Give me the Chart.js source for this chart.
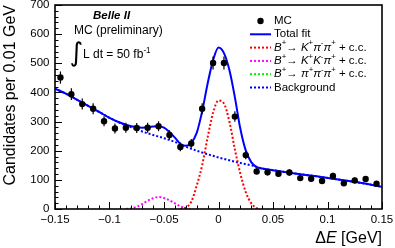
<!DOCTYPE html>
<html>
<head>
<meta charset="utf-8">
<script src="https://cdn.jsdelivr.net/npm/chart.js@4"></script>
<style>
  html, body { margin: 0; padding: 0; background: #fff; }
  canvas { display: block; }
</style>
</head>
<body>
<canvas id="de-chart" width="395" height="248"></canvas>
<script>
// MC points, 0.01 GeV bins
const binCenters = [-0.145, -0.135, -0.125, -0.115, -0.105, -0.095, -0.085, -0.075, -0.065, -0.055,
  -0.045, -0.035, -0.025, -0.015, -0.005, 0.005, 0.015, 0.025, 0.035, 0.045,
  0.055, 0.065, 0.075, 0.085, 0.095, 0.105, 0.115, 0.125, 0.135, 0.145];
const mcCounts = [451, 394, 360, 344, 301, 276, 279, 278, 279, 284,
  254, 213, 225, 344, 501, 501, 317, 185, 129, 126,
  121, 125, 106, 104, 96, 113, 88, 98, 103, 87];
const mcErrors = [21, 20, 19, 19, 17, 17, 17, 17, 17, 17,
  16, 15, 15, 19, 22, 22, 18, 14, 11, 11,
  11, 11, 10, 10, 10, 11, 9, 10, 10, 9];

// fit curves
const fitX = [-0.15, -0.14, -0.13, -0.12, -0.11, -0.10, -0.09, -0.08, -0.07, -0.06, -0.055, -0.05, -0.045,
  -0.04, -0.035, -0.03, -0.025, -0.02, -0.015, -0.01, -0.005, 0, 0.005, 0.01, 0.015, 0.02, 0.025,
  0.03, 0.035, 0.04, 0.05, 0.07, 0.09, 0.11, 0.13, 0.15];
const totalFit = [413, 396, 375, 355, 334, 313, 296, 284, 279, 283, 284, 279, 264,
  245, 224, 217, 227, 261, 335, 430, 510, 554, 535, 477, 384, 276, 201,
  161, 144, 139, 133, 122, 112, 101, 90, 76];

const sigX = [-0.035, -0.03, -0.025, -0.02, -0.015, -0.01, -0.005, 0, 0.005, 0.01, 0.015, 0.02, 0.025, 0.03, 0.035, 0.038];
const sigFit = [0, 5, 25, 80, 150, 245, 330, 372, 362, 300, 205, 122, 58, 20, 3, 0];

const kkpiX = [-0.085, -0.08, -0.075, -0.07, -0.065, -0.06, -0.055, -0.05, -0.045, -0.04, -0.035, -0.03, -0.026];
const kkpiFit = [0, 2, 8, 17, 28, 37, 41, 38, 30, 19, 9, 3, 0];

const pipipiX = [];
const pipipiFit = [];

const bgX = [-0.15, -0.14, -0.13, -0.12, -0.11, -0.10, -0.09, -0.08, -0.07, -0.06, -0.05, -0.04, -0.03,
  -0.02, -0.01, 0, 0.01, 0.02, 0.03, 0.04, 0.05, 0.07, 0.09, 0.11, 0.13, 0.15];
const bgFit = [413, 396, 375, 355, 334, 313, 295, 280, 266, 254, 243, 230, 214,
  200, 188, 177, 167, 158, 150, 139, 133, 122, 112, 101, 90, 76];

const xTickValues = [-0.15, -0.1, -0.05, 0, 0.05, 0.1, 0.15];
const xTickLabels = ['\u22120.15', '\u22120.1', '\u22120.05', '0', '0.05', '0.1', '0.15'];
const yTickValues = [0, 100, 200, 300, 400, 500, 600, 700];
const yTickLabels = ['0', '100', '200', '300', '400', '500', '600', '700'];

const FONT = '"Liberation Sans", Arial, Helvetica, sans-serif';

const LEGEND = [
  { kind: 'marker', color: '#000', parts: [{ t: 'MC' }] },
  { kind: 'solid', color: '#0000ff', parts: [{ t: 'Total fit' }] },
  { kind: 'dot', color: '#ff0000', parts: [{ t: 'B', i: 1 }, { t: '+', s: 1 }, { t: '\u2192 ' }, { t: 'K', i: 1 }, { t: '+', s: 1 }, { t: '\u03c0', i: 1 }, { t: '-', s: 1 }, { t: '\u03c0', i: 1 }, { t: '+', s: 1 }, { t: ' + c.c.' }] },
  { kind: 'dot', color: '#ff00ff', parts: [{ t: 'B', i: 1 }, { t: '+', s: 1 }, { t: '\u2192 ' }, { t: 'K', i: 1 }, { t: '+', s: 1 }, { t: 'K', i: 1 }, { t: '-', s: 1 }, { t: '\u03c0', i: 1 }, { t: '+', s: 1 }, { t: ' + c.c.' }] },
  { kind: 'dot', color: '#00ee00', parts: [{ t: 'B', i: 1 }, { t: '+', s: 1 }, { t: '\u2192 ' }, { t: '\u03c0', i: 1 }, { t: '+', s: 1 }, { t: '\u03c0', i: 1 }, { t: '-', s: 1 }, { t: '\u03c0', i: 1 }, { t: '+', s: 1 }, { t: ' + c.c.' }] },
  { kind: 'dot', color: '#0000ff', parts: [{ t: 'Background' }] },
];

function pts(xs, ys) {
  return xs.map((x, i) => ({ x, y: ys[i] }));
}

function richText(ctx, x, y, parts, size) {
  parts.forEach(p => {
    const s = p.s ? size * 0.68 : size;
    ctx.font = `${p.i ? 'italic ' : ''}${s}px ${FONT}`;
    ctx.fillText(p.t, x, p.s ? y - size * 0.38 : y);
    x += ctx.measureText(p.t).width;
  });
  return x;
}

const rootStyle = {
  id: 'rootStyle',
  afterDatasetsDraw(chart) {
    const { ctx, chartArea: a, scales: { x, y } } = chart;
    ctx.save();

    // error bars
    ctx.strokeStyle = '#000';
    ctx.lineWidth = 1.2;
    binCenters.forEach((c, i) => {
      const px = x.getPixelForValue(c);
      ctx.beginPath();
      ctx.moveTo(px, y.getPixelForValue(mcCounts[i] - mcErrors[i]));
      ctx.lineTo(px, y.getPixelForValue(mcCounts[i] + mcErrors[i]));
      ctx.stroke();
    });

    // frame
    ctx.lineWidth = 1.6;
    ctx.strokeRect(a.left, a.top, a.right - a.left, a.bottom - a.top);

    // inward ticks
    ctx.lineWidth = 1;
    for (let i = -15; i <= 15; i++) {
      const px = Math.round(x.getPixelForValue(i / 100)) + 0.5;
      const len = i % 5 === 0 ? 7 : 3.5;
      ctx.beginPath();
      ctx.moveTo(px, a.bottom);
      ctx.lineTo(px, a.bottom - len);
      ctx.stroke();
    }
    for (let j = 0; j <= 35; j++) {
      const py = Math.round(y.getPixelForValue(j * 20)) + 0.5;
      const len = j % 5 === 0 ? 7 : 3.5;
      ctx.beginPath();
      ctx.moveTo(a.left, py);
      ctx.lineTo(a.left + len, py);
      ctx.stroke();
    }

    // tick labels
    ctx.fillStyle = '#000';
    ctx.font = `11.5px ${FONT}`;
    ctx.textAlign = 'center';
    ctx.textBaseline = 'middle';
    xTickValues.forEach((v, i) => ctx.fillText(xTickLabels[i], x.getPixelForValue(v), a.bottom + 10.5));
    ctx.textAlign = 'right';
    yTickValues.forEach((v, i) => ctx.fillText(yTickLabels[i], a.left - 5.5, y.getPixelForValue(v)));

    // axis titles
    ctx.textBaseline = 'alphabetic';
    ctx.save();
    ctx.translate(15, a.top);
    ctx.rotate(-Math.PI / 2);
    ctx.textAlign = 'right';
    ctx.font = `16px ${FONT}`;
    ctx.fillText('Candidates per 0.01 GeV', 0, 0);
    ctx.restore();

    ctx.textAlign = 'left';
    const xt = [{ t: '\u0394' }, { t: 'E', i: 1 }, { t: ' [GeV]' }];
    let w = 0;
    xt.forEach(p => { ctx.font = `${p.i ? 'italic ' : ''}16px ${FONT}`; w += ctx.measureText(p.t).width; });
    richText(ctx, a.right - w, 243, xt, 16);

    // labels
    ctx.font = `bold italic 11.5px ${FONT}`;
    ctx.fillText('Belle II', 93, 19);
    ctx.font = `12px ${FONT}`;
    ctx.fillText('MC (preliminary)', 74, 33.5);
    ctx.font = `26px "DejaVu Sans", sans-serif`;
    ctx.fillText('\u222b', 69.5, 61);
    const ex = richText(ctx, 83, 57.5, [{ t: 'L dt = 50 fb' }], 12);
    richText(ctx, ex, 57.5, [{ t: '-1', s: 1 }], 12);

    // legend
    LEGEND.forEach((e, k) => {
      const ly = 21 + k * 13.3;
      ctx.fillStyle = e.color;
      ctx.strokeStyle = e.color;
      if (e.kind === 'marker') {
        ctx.beginPath();
        ctx.arc(260.5, ly, 3.2, 0, Math.PI * 2);
        ctx.fill();
      } else {
        ctx.lineWidth = 2;
        ctx.setLineDash(e.kind === 'dot' ? [2, 2] : []);
        ctx.beginPath();
        ctx.moveTo(250, ly);
        ctx.lineTo(271, ly);
        ctx.stroke();
        ctx.setLineDash([]);
      }
      ctx.fillStyle = '#000';
      ctx.textBaseline = 'middle';
      richText(ctx, 274, ly, e.parts, 11.5);
    });

    ctx.restore();
  }
};

const dotted = (data, color) => ({
  data, showLine: true, borderColor: color, backgroundColor: color,
  borderWidth: 2, borderDash: [2, 2], pointRadius: 0,
  cubicInterpolationMode: 'monotone', order: 3,
});

new Chart(document.getElementById('de-chart'), {
  type: 'scatter',
  data: {
    datasets: [
      {
        data: pts(binCenters, mcCounts), showLine: false,
        pointRadius: 3.2, pointBorderWidth: 0,
        backgroundColor: '#000', borderColor: '#000', order: 0,
      },
      {
        data: pts(fitX, totalFit), showLine: true,
        borderColor: '#0000ff', backgroundColor: '#0000ff',
        borderWidth: 2, pointRadius: 0,
        cubicInterpolationMode: 'monotone', order: 1,
      },
      dotted(pts(sigX, sigFit), '#ff0000'),
      dotted(pts(kkpiX, kkpiFit), '#ff00ff'),
      dotted(pts(pipipiX, pipipiFit), '#00ee00'),
      dotted(pts(bgX, bgFit), '#0000ff'),
    ]
  },
  options: {
    responsive: false,
    animation: false,
    devicePixelRatio: 1,
    layout: { padding: { left: 55, right: 13, top: 5, bottom: 39 } },
    plugins: { legend: { display: false }, tooltip: { enabled: false } },
    scales: {
      x: { type: 'linear', min: -0.15, max: 0.15, display: false },
      y: { type: 'linear', min: 0, max: 700, display: false },
    }
  },
  plugins: [rootStyle],
});
</script>
</body>
</html>
